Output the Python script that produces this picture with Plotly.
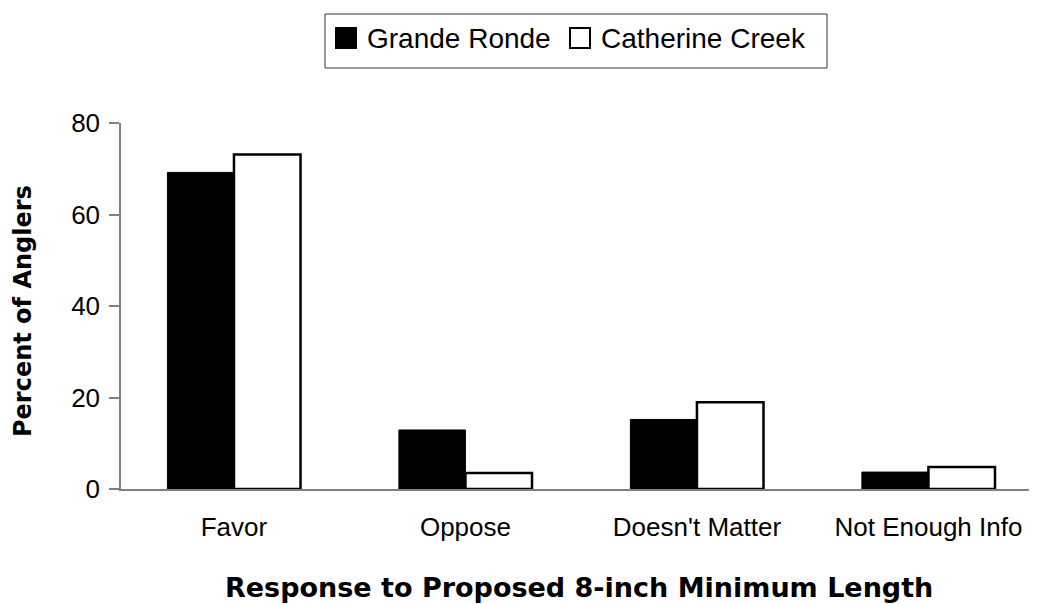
import plotly.graph_objects as go

categories = ["Favor", "Oppose", "Doesn't Matter", "Not Enough Info"]
grande_ronde = [69.2, 12.9, 15.2, 3.7]
catherine_creek = [73.1, 3.5, 18.95, 4.8]
y_ticks = [0, 20, 40, 60, 80]
series_names = ["Grande Ronde", "Catherine Creek"]
series_fill = ["black", "white"]

FONT = "Liberation Sans, Arial, sans-serif"
BOLD_FONT = "DejaVu Sans, Liberation Sans, Arial, sans-serif"

# page body adds an 8px offset, so margins are shifted to compensate
OFF = 8
AX_LEFT, AX_RIGHT, AX_TOP, AX_BOTTOM = 121, 1037, 123, 489


def px_x(x):
    return (x - AX_LEFT) / (AX_RIGHT - AX_LEFT)


def px_y(y):
    return (AX_BOTTOM - y) / (AX_BOTTOM - AX_TOP)


fig = go.Figure()
fig.add_trace(go.Bar(
    x=categories, y=grande_ronde, name=series_names[0],
    marker=dict(color=series_fill[0], line=dict(color="black", width=1)),
))
fig.add_trace(go.Bar(
    x=categories, y=catherine_creek, name=series_names[1],
    marker=dict(color=series_fill[1], line=dict(color="black", width=2.5)),
))

# hand-built legend box (bigger swatches than plotly's own legend)
shapes = [
    dict(type="rect", xref="paper", yref="paper",
         x0=px_x(325), x1=px_x(827), y0=px_y(68), y1=px_y(14),
         line=dict(color="#333333", width=1), fillcolor="white", layer="above"),
]
annotations = []
for name, fill, sx, tx in zip(series_names, series_fill, [336, 570], [365, 599]):
    shapes.append(dict(type="rect", xref="paper", yref="paper",
                       x0=px_x(sx), x1=px_x(sx + 20), y0=px_y(48), y1=px_y(28),
                       line=dict(color="black", width=2), fillcolor=fill, layer="above"))
    annotations.append(dict(text=name, xref="paper", yref="paper",
                            x=px_x(tx), y=px_y(39), xanchor="left", yanchor="middle",
                            showarrow=False, font=dict(family=FONT, size=28)))

annotations += [
    dict(text="<b>Response to Proposed 8-inch Minimum Length</b>",
         xref="paper", yref="paper", x=0.5, y=px_y(587),
         xanchor="center", yanchor="middle", showarrow=False,
         font=dict(family=BOLD_FONT, size=27)),
    dict(text="<b>Percent of Anglers</b>",
         xref="paper", yref="paper", x=px_x(23), y=px_y(311),
         xanchor="center", yanchor="middle", showarrow=False, textangle=-90,
         font=dict(family=BOLD_FONT, size=24)),
]

fig.update_layout(
    width=1037, height=604,
    margin=dict(l=AX_LEFT - OFF, r=1037 - AX_RIGHT + OFF, t=AX_TOP - OFF, b=604 + OFF - AX_BOTTOM),
    paper_bgcolor="white", plot_bgcolor="white",
    font=dict(family=FONT, size=26, color="black"),
    barmode="group", bargap=0.425, bargroupgap=0,
    showlegend=False,
    xaxis=dict(
        range=[-0.488, 3.469], showline=True, linecolor="#808080", linewidth=1.5,
        ticks="", showgrid=False, zeroline=False, ticklabelstandoff=14,
        tickfont=dict(size=26),
    ),
    yaxis=dict(
        range=[0, 80], tickvals=y_ticks, showline=True, linecolor="#808080", linewidth=1.5,
        ticks="outside", ticklen=10, tickcolor="#808080", tickwidth=1.5,
        showgrid=False, zeroline=False, ticklabelstandoff=4, tickfont=dict(size=26),
    ),
    shapes=shapes,
    annotations=annotations,
)

fig.write_html("out.html")
